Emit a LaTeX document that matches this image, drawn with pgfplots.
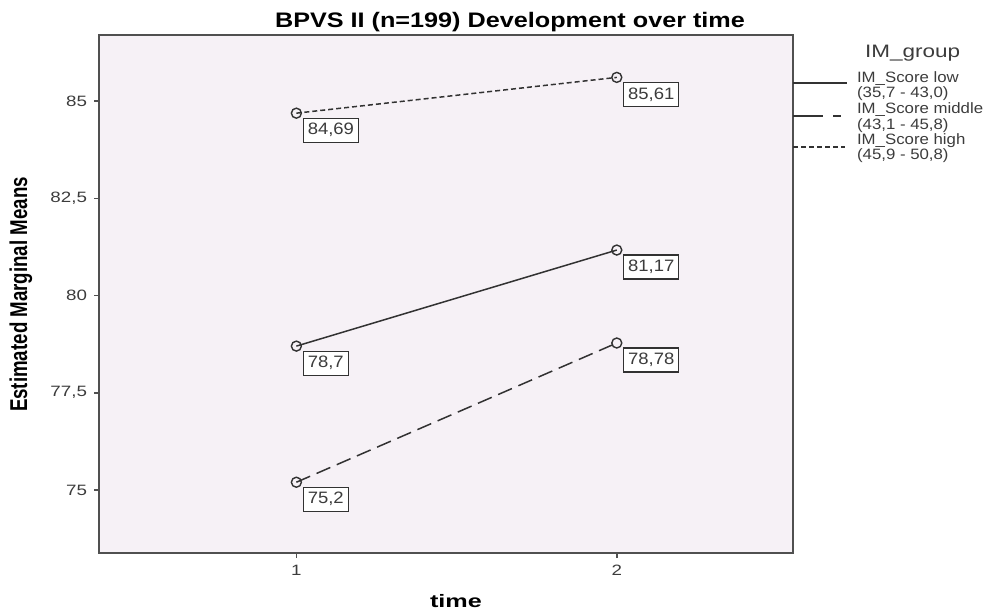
\documentclass[border=0pt]{standalone}
\usepackage{fontspec}
\setmainfont{Liberation Sans}
\usepackage{graphicx}
\usepackage{pgfplots}
\pgfplotsset{compat=1.18}
\definecolor{bgpink}{RGB}{246,241,246}
\definecolor{frame}{RGB}{80,80,80}
\definecolor{ln}{RGB}{50,50,50}
\definecolor{txt}{RGB}{60,60,60}
\newcommand{\sx}[2]{\scalebox{#1}[1]{#2}}
\begin{document}
\begin{tikzpicture}
\useasboundingbox (0,0) rectangle (495pt,-305pt);
\begin{axis}[
  at={(49.5pt,-276.5pt)}, anchor=south west,
  scale only axis, width=347pt, height=259pt,
  xmin=0.384, xmax=2.55, ymin=73.38, ymax=86.70,
  axis background/.style={fill=bgpink},
  axis line style={draw=frame, line width=1pt},
  xtick={1,2}, xticklabels={\sx{1.25}{1},\sx{1.25}{2}},
  ytick={75,77.5,80,82.5,85},
  yticklabels={\sx{1.25}{75},\sx{1.25}{77,5},\sx{1.25}{80},\sx{1.25}{82,5},\sx{1.25}{85}},
  tick align=outside, xtick pos=bottom, ytick pos=left,
  major tick length=2.5pt,
  tick style={draw=frame, line width=0.8pt},
  tick label style={font=\fontsize{7.5}{9}\selectfont, text=txt},
  point meta=explicit symbolic,
  nodes near coords={\sx{1.12}{\pgfplotspointmeta}},
  every node near coord/.append style={anchor=north west, xshift=3.2pt, yshift=-2.2pt,
     draw=ln, fill=white, line width=0.6pt, text=txt, inner xsep=2.2pt, inner ysep=2.6pt,
     font=\fontsize{8.25}{10}\selectfont},
]
\addplot[ln, line width=0.75pt, solid, mark=o, mark size=2.5pt,
     mark options={solid, draw=ln, line width=0.7pt}]
  coordinates {(1,78.7) [78,7] (2,81.17) [81,17]};
\addplot[ln, line width=0.75pt, dash pattern=on 7.5pt off 3.5pt, mark=o, mark size=2.5pt,
     mark options={solid, draw=ln, line width=0.7pt}]
  coordinates {(1,75.2) [75,2] (2,78.78) [78,78]};
\addplot[ln, line width=0.75pt, dash pattern=on 2.5pt off 1.5pt, mark=o, mark size=2.5pt,
     mark options={solid, draw=ln, line width=0.7pt}]
  coordinates {(1,84.69) [84,69] (2,85.61) [85,61]};
\end{axis}
\node[anchor=base west, font=\bfseries\fontsize{10.5}{12}\selectfont] at (134pt,-14pt) {\sx{1.2}{BPVS II (n=199) Development over time}};
\node[rotate=90, font=\bfseries\fontsize{9.35}{11}\selectfont] at (10.5pt,-147.25pt) {\scalebox{1}[1.3]{Estimated Marginal Means}};
\node[font=\bfseries\fontsize{9}{11}\selectfont] at (228pt,-300.5pt) {\sx{1.4}{time}};
% legend
\node[anchor=base west, font=\fontsize{9}{11}\selectfont, text=txt] at (429pt,-29pt) {\sx{1.25}{IM\_group}};
\draw[ln, line width=0.75pt] (396.5pt,-41.6pt) -- (423.5pt,-41.6pt);
\node[anchor=base west, font=\fontsize{7.5}{9}\selectfont, text=txt] at (425pt,-41.5pt) {\sx{1.12}{IM\_Score low}};
\node[anchor=base west, font=\fontsize{7.5}{9}\selectfont, text=txt] at (425pt,-48.8pt) {\sx{1.12}{(35,7 - 43,0)}};
\draw[ln, line width=0.75pt, dash pattern=on 15pt off 5pt on 4pt off 20pt] (396.5pt,-58pt) -- (424pt,-58pt);
\node[anchor=base west, font=\fontsize{7.5}{9}\selectfont, text=txt] at (425pt,-56.5pt) {\sx{1.12}{IM\_Score middle}};
\node[anchor=base west, font=\fontsize{7.5}{9}\selectfont, text=txt] at (425pt,-64.5pt) {\sx{1.12}{(43,1 - 45,8)}};
\draw[ln, line width=0.75pt, dash pattern=on 2.5pt off 1.5pt] (396.5pt,-73.5pt) -- (422.5pt,-73.5pt);
\node[anchor=base west, font=\fontsize{7.5}{9}\selectfont, text=txt] at (425pt,-72.5pt) {\sx{1.12}{IM\_Score high}};
\node[anchor=base west, font=\fontsize{7.5}{9}\selectfont, text=txt] at (425pt,-80pt) {\sx{1.12}{(45,9 - 50,8)}};
\end{tikzpicture}
\end{document}
